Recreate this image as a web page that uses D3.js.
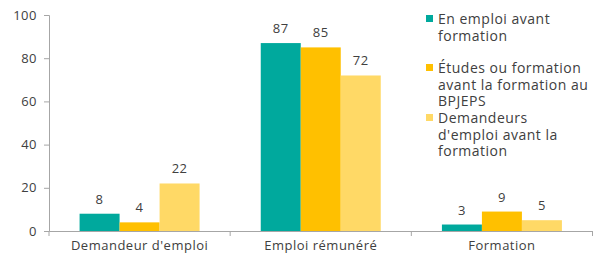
<!DOCTYPE html>
<html>
<head>
<meta charset="utf-8">
<script src="https://cdn.jsdelivr.net/npm/d3@7"></script>
<style>
  body { margin: 0; background: #fff; }
  text { font-family: "Open Sans", Lato, sans-serif; fill: #404040; }
</style>
</head>
<body>
<div id="chart"></div>
<script>
// données
var categories = ["Demandeur d'emploi", "Emploi rémunéré", "Formation"];
var series = ["En emploi avant formation", "Études ou formation avant la formation au BPJEPS", "Demandeurs d'emploi avant la formation"];
var enEmploi = [8, 87, 3];
var etudes = [4, 85, 9];
var demandeurs = [22, 72, 5];
var yTicks = [0, 20, 40, 60, 80, 100];
// texte de la légende, coupé en lignes
var legendLines = [
  ["En emploi avant", "formation"],
  ["Études ou formation", "avant la formation au", "BPJEPS"],
  ["Demandeurs", "d'emploi avant la", "formation"]
];
var colors = ["#00A99D", "#FFC000", "#FFD966"];

const width = 593, height = 259;
const margin = {left: 49, right: 0, top: 15, bottom: 28};

const svg = d3.select('#chart').append('svg').attr('width', width).attr('height', height);

const x = d3.scaleBand().domain(categories).range([margin.left, width - 0.5]).paddingInner(0).paddingOuter(0);
const x1 = d3.scaleBand().domain(d3.range(series.length)).range([0, 120]);
const y = d3.scaleLinear().domain([0, 100]).range([height - margin.bottom, margin.top]);

const allValues = [enEmploi, etudes, demandeurs];

// axe Y
const yAxis = svg.append('g').attr('transform', `translate(${margin.left},0)`)
  .call(d3.axisLeft(y).tickValues(yTicks).tickSize(5).tickPadding(7));
yAxis.selectAll('text').style('font-size', '13px').style('letter-spacing', '0.5px').attr('fill', '#404040');
yAxis.selectAll('line, path').attr('stroke', '#a6a6a6');

// axe X
const xAxis = svg.append('g').attr('transform', `translate(0,${y(0)})`)
  .call(d3.axisBottom(x).tickSize(0).tickPadding(10).tickSizeOuter(0));
xAxis.selectAll('text').style('font-size', '13px').style('letter-spacing', '0.5px').attr('fill', '#404040');
xAxis.select('path').attr('stroke', '#a6a6a6');
// petits traits entre les catégories
xAxis.selectAll('line.sep')
  .data([0, 1, 2, 3])
  .enter().append('line')
  .attr('class', 'sep')
  .attr('x1', i => margin.left + i * x.bandwidth())
  .attr('x2', i => margin.left + i * x.bandwidth())
  .attr('y1', 0).attr('y2', 5)
  .attr('stroke', '#a6a6a6');

// barres
allValues.forEach(function(vals, s) {
  const g = svg.append('g');
  g.selectAll('rect')
    .data(vals)
    .enter().append('rect')
    .attr('x', (d, i) => x(categories[i]) + x.bandwidth() / 2 - 60 + x1(s))
    .attr('width', x1.bandwidth())
    .attr('y', d => y(d))
    .attr('height', d => y(0) - y(d))
    .attr('fill', colors[s]);
  g.selectAll('text')
    .data(vals)
    .enter().append('text')
    .attr('x', (d, i) => x(categories[i]) + x.bandwidth() / 2 - 60 + x1(s) + x1.bandwidth() / 2)
    .attr('y', d => y(d) - 10)
    .attr('text-anchor', 'middle')
    .style('font-size', '13px')
    .style('letter-spacing', '0.5px')
    .text(d => d);
});

// légende
const legendTop = [19, 68, 118];
const legend = svg.append('g');
legendLines.forEach(function(lines, s) {
  legend.append('rect')
    .attr('x', 426).attr('y', legendTop[s] - 4)
    .attr('width', 7).attr('height', 7)
    .attr('fill', colors[s]);
  lines.forEach(function(l, k) {
    legend.append('text')
      .attr('x', 438)
      .attr('y', legendTop[s] + k * 16.7 + 5)
      .style('font-size', '14px')
      .style('letter-spacing', '0.5px')
      .text(l);
  });
});
</script>
</body>
</html>
